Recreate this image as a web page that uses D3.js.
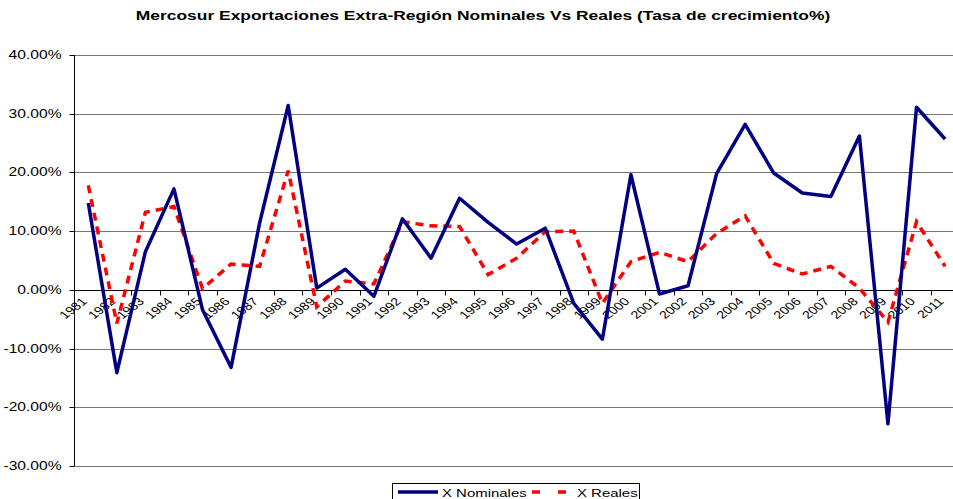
<!DOCTYPE html>
<html><head><meta charset="utf-8">
<script src="https://cdn.jsdelivr.net/npm/d3@7"></script>
<style>body{margin:0;background:#fff;overflow:hidden}text{font-family:"Liberation Sans",Arial,sans-serif}</style>
</head><body>
<svg id="c" width="953" height="499"></svg>
<script>
const years = ["1981","1982","1983","1984","1985","1986","1987","1988","1989","1990","1991","1992","1993","1994","1995","1996","1997","1998","1999","2000","2001","2002","2003","2004","2005","2006","2007","2008","2009","2010","2011"];
const nominales = [14.8,-14.1,6.5,17.2,-3.4,-13.2,11.4,31.4,0.3,3.5,-1.1,12.1,5.4,15.6,11.5,7.8,10.5,-2.3,-8.4,19.6,-0.7,0.7,19.8,28.2,19.9,16.5,15.9,26.2,-22.8,31.1,25.7];
const reales = [17.8,-5.7,13.2,14.2,0.2,4.4,4.0,20.3,-2.9,1.5,1.0,11.6,10.9,10.8,2.6,5.4,9.9,10.0,-2.3,4.8,6.4,4.8,9.6,12.6,4.5,2.7,4.0,0.3,-5.5,11.6,4.0];
const yTicks = [40,30,20,10,0,-10,-20,-30];
const title = "Mercosur Exportaciones Extra-Región Nominales Vs Reales (Tasa de crecimiento%)";
const seriesNames = ["X Nominales","X Reales"];

(function(){
const svg = d3.select("#c");
const SX = 1.3; // horizontal text stretch seen in the reference
const mL = 74, mT = 55, mB = 466;
const bw = 28.56;
const mR = mL + bw*years.length;
const x = d3.scaleBand().domain(years).range([mL,mR]).padding(0);
const y = d3.scaleLinear().domain([-30,40]).range([mB,mT]);

svg.append("text").attr("transform",`translate(483,20) scale(${SX},1)`).attr("text-anchor","middle")
  .attr("font-weight","bold").attr("font-size","13.4px").text(title);

svg.append("g").selectAll("line").data(yTicks.filter(d=>d!==0)).join("line")
  .attr("x1",mL).attr("x2",mR).attr("y1",d=>Math.round(y(d))+0.5).attr("y2",d=>Math.round(y(d))+0.5)
  .attr("stroke","#777").attr("stroke-width",1);

const ya = svg.append("g").attr("transform",`translate(${mL+0.5},0)`)
  .call(d3.axisLeft(y).tickValues(yTicks).tickSize(5).tickFormat(d=>d.toFixed(2)+"%"));
ya.select(".domain").attr("stroke","#000").attr("d",`M0,${y(40)}V${y(-30)}`);
ya.selectAll(".tick line").attr("stroke","#000");
ya.selectAll(".tick").attr("transform",d=>`translate(0,${Math.round(y(d))+0.5})`);
ya.selectAll("text").attr("font-size","12px").attr("fill","#000").attr("x",null)
  .attr("transform",`translate(-13,0) scale(${SX},1)`).attr("font-family",null);

const y0 = Math.round(y(0))+0.5;
const xg = svg.append("g");
xg.append("line").attr("x1",mL).attr("x2",mR).attr("y1",y0).attr("y2",y0).attr("stroke","#000");
xg.selectAll("line.t").data(d3.range(years.length+1)).join("line").attr("class","t")
  .attr("x1",i=>Math.round(mL+i*bw)+0.5).attr("x2",i=>Math.round(mL+i*bw)+0.5)
  .attr("y1",y0).attr("y2",y0+5).attr("stroke","#000");
xg.selectAll("text").data(years).join("text")
  .attr("transform",d=>`translate(${x(d)+x.bandwidth()/2-4},${y0+9}) scale(${SX},1) rotate(-45)`)
  .attr("text-anchor","end").attr("dy","0.35em").attr("font-size","11px").text(d=>d);

const line = d3.line().x((d,i)=>x(years[i])+x.bandwidth()/2).y(d=>y(d));
svg.append("path").datum(reales).attr("d",line).attr("fill","none")
  .attr("stroke","#ff0000").attr("stroke-width",3.5).attr("stroke-dasharray","8,6");
svg.append("path").datum(nominales).attr("d",line).attr("fill","none")
  .attr("stroke","#000080").attr("stroke-width",3.5).attr("stroke-linejoin","round");

const lg = svg.append("g");
lg.append("rect").attr("x",392.5).attr("y",483.5).attr("width",247).attr("height",20)
  .attr("fill","#fff").attr("stroke","#000");
lg.append("line").attr("x1",398).attr("x2",438).attr("y1",492).attr("y2",492).attr("stroke","#000080").attr("stroke-width",3.5);
lg.append("text").attr("transform",`translate(442,497) scale(${SX},1)`).attr("font-size","11.5px").text(seriesNames[0]);
lg.append("line").attr("x1",532).attr("x2",567).attr("y1",492).attr("y2",492).attr("stroke","#ff0000").attr("stroke-width",3.5).attr("stroke-dasharray","8,18");
lg.append("text").attr("transform",`translate(577,497) scale(${SX},1)`).attr("font-size","11.5px").text(seriesNames[1]);
})();
</script>
</body></html>
